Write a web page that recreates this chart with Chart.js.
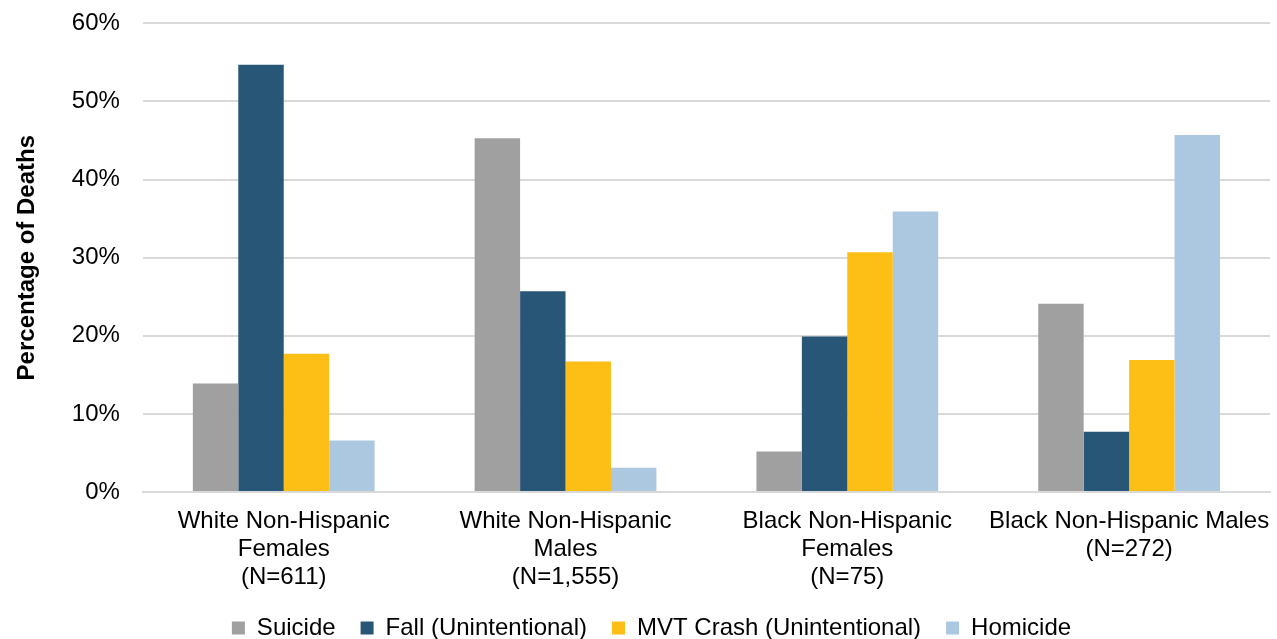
<!DOCTYPE html>
<html>
<head>
<meta charset="utf-8">
<script src="https://cdn.jsdelivr.net/npm/chart.js@4/dist/chart.umd.min.js"></script>
<style>
html,body{margin:0;padding:0;background:#fff;}
#wrap{width:1277px;height:639px;position:relative;}
</style>
</head>
<body>
<div id="wrap"><canvas id="c" width="1277" height="639"></canvas></div>
<script>
const categories = [
  ["White Non-Hispanic","Females","(N=611)"],
  ["White Non-Hispanic","Males","(N=1,555)"],
  ["Black Non-Hispanic","Females","(N=75)"],
  ["Black Non-Hispanic Males","(N=272)"]
];
const suicide = [13.9, 45.3, 5.2, 24.1];
const fall = [54.7, 25.7, 19.9, 7.7];
const mvtCrash = [17.7, 16.7, 30.7, 16.9];
const homicide = [6.6, 3.1, 35.9, 45.7];
const yTicks = [0, 10, 20, 30, 40, 50, 60];

const FONT = "'Liberation Sans', Arial, sans-serif";
Chart.defaults.font.family = FONT;
Chart.defaults.color = '#000';

const legendShift = {
  id:'legendShift',
  afterLayout(chart){
    const lg = chart.legend;
    if (lg) { lg.left += 12; lg.right += 12; }
  }
};

new Chart(document.getElementById('c'), {
  type: 'bar',
  data: {
    labels: categories,
    datasets: [
      {label:'Suicide', data:suicide, backgroundColor:'#a0a0a0'},
      {label:'Fall (Unintentional)', data:fall, backgroundColor:'#285676'},
      {label:'MVT Crash (Unintentional)', data:mvtCrash, backgroundColor:'#fdbf15'},
      {label:'Homicide', data:homicide, backgroundColor:'#abc8e0'}
    ]
  },
  plugins:[legendShift],
  options: {
    responsive:false,
    animation:false,
    layout:{padding:{top:0,right:7,left:9,bottom:0}},
    datasets:{bar:{categoryPercentage:0.645, barPercentage:1}},
    plugins:{
      legend:{
        position:'bottom',
        maxHeight:48,
        labels:{boxWidth:13, boxHeight:13, padding:25, font:{size:24, family:FONT}, color:'#000'}
      },
      tooltip:{enabled:false}
    },
    scales:{
      x:{
        grid:{display:true, drawOnChartArea:false, drawTicks:true, tickLength:15, color:'rgba(0,0,0,0)', tickColor:'rgba(0,0,0,0)'},
        border:{color:'#d9d9d9', width:2},
        ticks:{font:{size:24, lineHeight:1.17}, color:'#000', maxRotation:0, autoSkip:false, padding:0},
        afterFit:(ax)=>{ ax.height = 99; }
      },
      y:{
        min:0, max:60,
        afterBuildTicks: (ax) => { ax.ticks = yTicks.map(v => ({value:v})); },
        grid:{color:'#d9d9d9', lineWidth:2, drawTicks:true, tickLength:14, tickColor:'rgba(0,0,0,0)'},
        border:{display:false},
        ticks:{font:{size:24}, color:'#000', padding:9, callback:(v)=>v+'%'},
        title:{display:true, text:'Percentage of Deaths', font:{size:24, weight:'bold'}, color:'#000', padding:{bottom:21}}
      }
    }
  }
});
</script>
</body>
</html>
